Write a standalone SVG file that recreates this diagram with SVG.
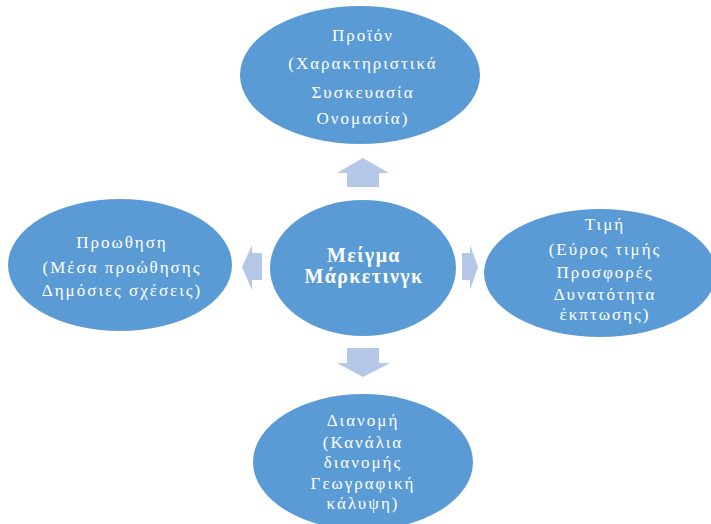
<svg xmlns="http://www.w3.org/2000/svg" width="711" height="524" viewBox="0 0 711 524">
<style>
.node{fill:#5B9BD5}
.arr{fill:#B4C7E7}
text{font-family:"Liberation Serif","Times New Roman",serif;fill:#ffffff;font-size:17px;text-anchor:middle;letter-spacing:2px}
.b{font-weight:bold;font-size:20px;letter-spacing:1.4px}
</style>
<rect width="711" height="524" fill="#ffffff"/>
<g id="connectors">
<polygon class="arr" points="347,187 347,173 337,173 363,158 389,173 379,173 379,187"/>
<polygon class="arr" points="347,348 379,348 379,363 390,363 363,377 337,363 347,363"/>
<polygon class="arr" points="262,253 252,253 252,245 242,267 252,290 252,280 262,280"/>
<polygon class="arr" points="462,253 470,253 470,245 478,267 470,290 470,280 462,280"/>
</g>
<g id="product">
<ellipse class="node" cx="360" cy="75" rx="120" ry="69"/>
<text x="363" y="41">Προϊόν</text>
<text x="363" y="69">(Χαρακτηριστικά</text>
<text x="363" y="98">Συσκευασία</text>
<text x="363" y="124">Ονομασία)</text>
</g>
<g id="center">
<ellipse class="node" cx="363" cy="268" rx="93" ry="68"/>
<text class="b" x="364" y="262">Μείγμα</text>
<text class="b" x="364" y="283">Μάρκετινγκ</text>
</g>
<g id="promotion">
<ellipse class="node" cx="120" cy="265" rx="112" ry="66"/>
<text x="122" y="248">Προωθηση</text>
<text x="122" y="273">(Μέσα προώθησης</text>
<text x="122" y="296">Δημόσιες σχέσεις)</text>
</g>
<g id="price">
<ellipse class="node" cx="600" cy="273" rx="116" ry="64"/>
<text x="605" y="230">Τιμή</text>
<text x="605" y="255">(Εύρος τιμής</text>
<text x="605" y="278">Προσφορές</text>
<text x="605" y="300">Δυνατότητα</text>
<text x="605" y="320">έκπτωσης)</text>
</g>
<g id="distribution">
<ellipse class="node" cx="363" cy="462" rx="110" ry="68"/>
<text x="363" y="426">Διανομή</text>
<text x="363" y="448">(Κανάλια</text>
<text x="363" y="468">διανομής</text>
<text x="363" y="489">Γεωγραφική</text>
<text x="363" y="509">κάλυψη)</text>
</g>
</svg>
